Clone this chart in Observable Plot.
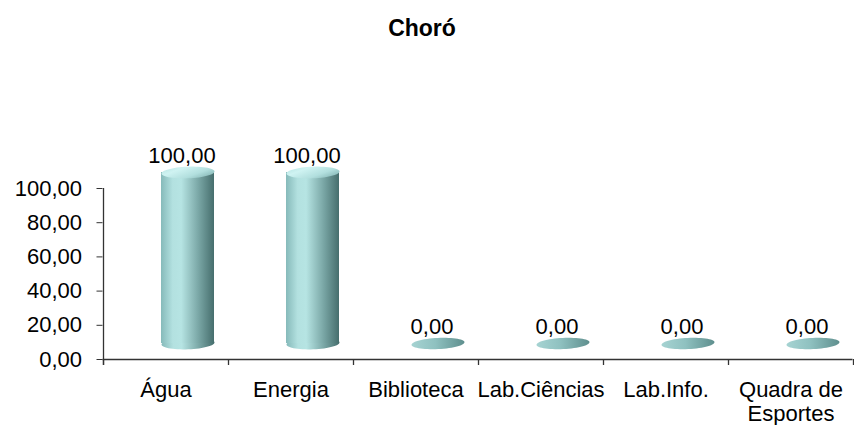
<!DOCTYPE html>
<html>
<head>
<meta charset="utf-8">
<script src="https://cdn.jsdelivr.net/npm/d3@7"></script>
<script src="https://cdn.jsdelivr.net/npm/@observablehq/plot@0.6"></script>
<style>
  html, body { margin: 0; padding: 0; background: #fff; }
  #title { width: 844px; height: 33px; padding-top: 17px; text-align: center;
    font: bold 23px "Liberation Sans", Arial, sans-serif; line-height: 23px; color: #000; }
  #chart svg { overflow: visible; }
</style>
</head>
<body>
<div id="title"></div>
<div id="chart"></div>
<script>
const title = "Choró";
const categories = ["Água", "Energia", "Biblioteca", "Lab.Ciências", "Lab.Info.", "Quadra de\nEsportes"];
const values = [100, 100, 0, 0, 0, 0];
const yTicks = [0, 20, 40, 60, 80, 100];

const data = categories.map((c, i) => ({cat: c, value: values[i]}));
const fmt = v => v.toFixed(2).replace(".", ",");

const W = 854, H = 375, mL = 102.5, mR = 1.5, mT = 138, mB = 66;
const bw = (W - mL - mR) / categories.length;
const depthX = 22, depthY = -16;

function ellipse(ratio, tilt) {
  return {
    draw(ctx, size) {
      const rx = Math.sqrt(size / Math.PI), ry = rx * ratio;
      const c = Math.cos(tilt), s = Math.sin(tilt);
      const n = 60;
      for (let i = 0; i <= n; i++) {
        const t = (i / n) * 2 * Math.PI;
        const x = rx * Math.cos(t), y = ry * Math.sin(t);
        const px = x * c - y * s, py = x * s + y * c;
        if (i === 0) ctx.moveTo(px, py); else ctx.lineTo(px, py);
      }
      ctx.closePath();
    }
  };
}

document.getElementById("title").textContent = title;

const bars = data.filter(d => d.value > 0);
const zeros = data.filter(d => d.value === 0);
const last = categories[categories.length - 1];
const axisColor = "#333";

const chart = Plot.plot({
  width: W, height: H,
  marginLeft: mL, marginRight: mR, marginTop: mT, marginBottom: mB,
  style: {fontFamily: "'Liberation Sans', Arial, sans-serif", fontSize: "22px", color: "#000", background: "#fff", overflow: "visible"},
  x: {type: "band", domain: categories, padding: 0, axis: null},
  y: {domain: [0, 100], axis: null},
  marks: [
    Plot.ruleY([0], {stroke: axisColor, strokeWidth: 1.3}),
    Plot.ruleX([categories[0]], {x: d => d, dx: -bw / 2, y1: -3.5, y2: 100, stroke: axisColor, strokeWidth: 1.3}),
    Plot.ruleX(categories, {x: d => d, dx: -bw / 2, y1: 0, y2: -3.5, stroke: axisColor, strokeWidth: 1.3}),
    Plot.ruleX([last], {x: d => d, dx: bw / 2, y1: 0, y2: -3.5, stroke: axisColor, strokeWidth: 1.3}),
    Plot.axisY({ticks: yTicks, tickFormat: fmt, tickSize: 6, tickPadding: 15, fontSize: 22, stroke: axisColor, label: null}),
    Plot.axisX({tickSize: 0, tickPadding: 20, fontSize: 22, lineHeight: 1.1, label: null}),
    Plot.dot(zeros, {x: "cat", y: "value", dx: depthX, dy: depthY, r: 26.5, symbol: ellipse(0.21, -0.05), fill: "url(#disc)"}),
    Plot.dot(bars, {x: "cat", y: () => 0, dx: depthX, dy: depthY, r: 26.5, symbol: ellipse(0.22, -0.04), fill: "url(#cyl)"}),
    Plot.barY(bars, {x: "cat", y: "value", dx: depthX, dy: depthY, insetLeft: (bw - 53) / 2, insetRight: (bw - 53) / 2, fill: "url(#cyl)"}),
    Plot.dot(bars, {x: "cat", y: "value", dx: depthX, dy: depthY, r: 26.5, symbol: ellipse(0.22, -0.04), fill: "url(#cap)"}),
    Plot.text(data, {x: "cat", y: "value", text: d => fmt(d.value), dx: 16, dy: -33, fontSize: 22, fill: "#000"})
  ]
});

const defs = d3.select(chart).insert("defs", ":first-child");
function grad(id, stops, x2 = 1, y2 = 0) {
  const g = defs.append("linearGradient").attr("id", id).attr("x1", 0).attr("y1", 0).attr("x2", x2).attr("y2", y2);
  stops.forEach(([o, c]) => g.append("stop").attr("offset", o).attr("stop-color", c));
}
grad("cyl", [[0, "#86baba"], [0.22, "#b3e1e0"], [0.38, "#b6e4e3"], [0.7, "#7ba8a7"], [1, "#466e6d"]]);
grad("cap", [[0, "#b4e2e1"], [0.35, "#cff3f2"], [0.75, "#b2dfde"], [1, "#8fbfbe"]], 1, 0.6);
grad("disc", [[0, "#a6d3d2"], [0.45, "#8fc1c0"], [1, "#5f8f8e"]]);

document.getElementById("chart").appendChild(chart);
</script>
</body>
</html>
